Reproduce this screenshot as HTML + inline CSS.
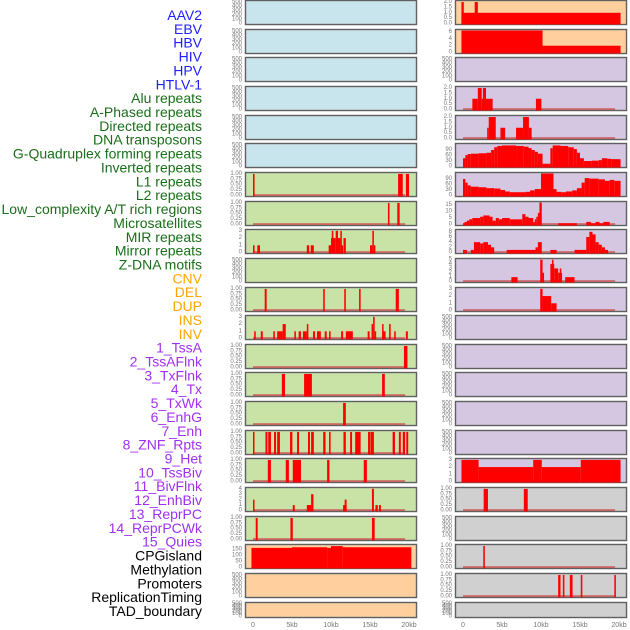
<!DOCTYPE html>
<html><head><meta charset="utf-8"><style>
html,body{margin:0;padding:0;background:#fff;width:630px;height:630px;overflow:hidden}
svg{display:block;font-family:"Liberation Sans",sans-serif}
</style></head><body>
<svg id="chart" width="630" height="630" viewBox="0 0 630 630" xmlns="http://www.w3.org/2000/svg"></svg>
<script>
// ---- labels ----
const labels = ["AAV2","EBV","HBV","HIV","HPV","HTLV-1","Alu repeats","A-Phased repeats","Directed repeats","DNA transposons","G-Quadruplex forming repeats","Inverted repeats","L1 repeats","L2 repeats","Low_complexity A/T rich regions","Microsatellites","MIR repeats","Mirror repeats","Z-DNA motifs","CNV","DEL","DUP","INS","INV","1_TssA","2_TssAFlnk","3_TxFlnk","4_Tx","5_TxWk","6_EnhG","7_Enh","8_ZNF_Rpts","9_Het","10_TssBiv","11_BivFlnk","12_EnhBiv","13_ReprPC","14_ReprPCWk","15_Quies","CPGisland","Methylation","Promoters","ReplicationTiming","TAD_boundary"];
const labelGroups = [6,13,5,15,5];
const groupColors = ["#2020ff","#1a6e1a","#ffa500","#a030f0","#000000"];
const xTicks = [0,5,10,15,20];
const xTickLabels = ["0","5kb","10kb","15kb","20kb"];
// ---- tick sets ----
const T500 = [0,100,200,300,400,500];
const T1 = [0,0.25,0.5,0.75,1];
// ---- left column data [startKb, endKb, value] ----
const L6 = [[0,0.2,1],[18.6,19.2,1],[19.6,20,1]];
const L7 = [[17.3,17.5,1],[18.5,18.8,1]];
const L8 = [[0,0.2,1],[0.55,0.9,1],[6.9,7.2,1],[7.4,7.8,1],[9.7,10,1],[10,10.6,2],[10.1,10.3,3],[10.6,10.9,3],[10.9,11.2,2],[11.2,11.35,3],[11.35,11.5,1],[11.6,11.9,2],[15,15.3,1],[15.3,15.5,3],[15.5,15.6,1]];
const L10 = [[1.5,1.75,1],[9.0,9.2,1],[11.7,11.9,1],[13.6,13.8,1],[18.3,18.7,1]];
const L11 = [[0.15,0.35,1],[1.0,1.25,1],[2.6,2.8,1],[3.1,3.8,1],[3.8,4.2,2],[5.3,5.5,1],[5.85,6.15,1],[6.4,6.9,1],[6.9,7.1,2],[7.7,7.95,1],[8.2,8.7,1],[9.2,9.45,1],[9.75,9.95,1],[11.3,11.55,1],[11.9,12.8,1],[14.7,14.95,1],[15.2,15.4,2],[15.4,15.6,3],[15.6,15.75,1],[16.55,16.7,2],[16.7,17,1],[17.45,17.65,2],[18.1,18.3,1],[19.6,19.85,1]];
const L12 = [[19.35,19.8,1]];
const L13 = [[3.7,4.1,1],[6.55,7.55,1],[16.55,16.9,1]];
const L14 = [[11.55,11.9,1]];
const L15 = [[0,0.17,1],[1.6,1.85,1],[1.95,2.3,1],[2.7,2.95,1],[3.1,3.45,1],[4.75,5.05,1],[5.65,5.9,1],[7.05,7.3,1],[7.45,7.8,1],[9.0,9.3,1],[9.75,9.95,1],[11.6,11.9,1],[12.45,12.7,1],[13.1,13.8,1],[14.75,15.05,1],[15.1,15.5,1],[17.9,18.2,1],[18.7,18.95,1],[19.2,19.5,1],[19.65,19.9,1]];
const L16 = [[1.9,2.3,1],[4.2,4.6,1],[5.1,6.15,1],[9.5,9.8,1],[14.2,14.6,1]];
const L17 = [[0,0.17,2],[5.1,5.35,1],[6.9,7.45,1],[7.45,7.75,3],[11.55,12,1],[11.75,12,2],[15.25,15.5,4],[15.7,16,1],[16.15,16.4,1]];
const L18 = [[0.35,0.6,1],[4.8,5.1,1],[15.25,15.6,1]];
const L19 = [[-0.2,5,165],[5,9.5,170],[9.5,10,165],[10,11.5,180],[11.5,20.3,170]];
// ---- right column data ----
const R0 = [[-0.2,20.2,1],[-0.2,0.1,2],[1.5,1.9,2]];
const R1 = [[-0.2,10.2,6.5],[10.2,20.2,2]];
const R3 = [[1.2,1.9,1],[1.9,2.4,2],[2.4,2.55,1],[2.55,2.95,2],[2.95,3.8,1],[9.35,10.05,1]];
const R4 = [[3.1,3.3,1],[3.3,4.2,2],[4.8,5.4,1],[6.8,7.7,1],[7.7,8.45,2],[8.45,8.8,1]];
const R5 = [[0,0.3,45],[0.3,0.6,62],[0.6,1,68],[1,2,70],[2,3,72],[3,3.6,75],[3.6,4,90],[4,4.4,105],[4.4,5,112],[5,6.8,115],[6.8,7.8,112],[7.8,8.4,108],[8.4,8.8,100],[8.8,9.2,90],[9.2,9.6,80],[9.6,10.2,70],[10.2,11.2,15],[11.2,11.5,100],[11.5,12.5,115],[12.5,13.5,112],[13.5,14.2,105],[14.2,14.6,95],[14.6,15,75],[15,15.5,45],[15.5,16.5,30],[16.5,17.4,32],[17.4,17.8,35],[17.8,18.5,45],[18.5,19,42],[19,20.2,40]];
const R6 = [[0,0.3,90],[0.3,0.6,70],[0.6,1,55],[1,2,48],[2,3,45],[3,4,40],[4,4.8,38],[4.8,5.4,30],[5.4,6,22],[6,8,18],[8,8.6,20],[8.6,9.2,28],[9.2,10,35],[10,11.6,120],[11.6,12,35],[12,12.6,20],[12.6,13.2,18],[13.2,14,22],[14,14.6,28],[14.6,15.2,40],[15.2,15.6,70],[15.6,16.2,95],[16.2,17.4,92],[17.4,18.2,88],[18.2,18.8,80],[18.8,19.4,85],[19.4,20.2,80]];
const R7 = [[0,0.2,1],[0.2,0.5,2],[0.5,0.8,3],[0.8,1.2,4],[1.2,2.2,5],[2.2,2.6,6],[2.6,3.4,7],[3.4,3.8,6],[3.8,4.2,3],[4.2,4.6,5],[4.6,5,4],[5,6,5],[6,7.6,4],[7.6,8,8],[8,8.4,6],[8.4,9,5],[9,9.2,2],[9.2,9.4,4],[9.4,9.6,6],[9.6,9.8,9],[9.8,10.1,17],[12.2,14.6,1],[15.8,16.4,2],[16.4,17,1],[17,17.5,2],[17.5,18,1],[18,18.8,2]];
const R8 = [[0,0.5,1],[1,1.4,1],[1.4,2.2,4],[2.2,2.6,3.5],[2.6,3.2,4],[3.2,3.6,3],[3.6,4,2],[5.6,9.3,1],[9.3,9.6,2],[9.6,10.1,4],[11.2,12,1],[14.3,15.8,1],[15.8,16.2,6],[16.2,16.6,8],[16.6,17,7],[17,17.4,4],[17.4,17.8,3],[17.8,18.2,2],[18.2,18.6,1]];
const R9 = [[6.2,7.0,1],[9.9,10.2,5],[10.2,10.3,2],[11.2,11.7,4],[11.4,11.6,5],[11.7,12.2,3],[12.2,12.7,2],[12.4,12.6,3],[13.1,14.3,1]];
const R10 = [[9.9,10.2,3],[10.2,11.3,2],[11.3,12.0,1]];
const R16 = [[-0.2,2.0,3],[2.0,9.0,2],[9.0,10.1,3],[10.1,15.1,2],[15.1,20.2,3]];
const R17 = [[2.65,3.2,1],[7.8,8.3,1]];
const R19 = [[2.6,2.8,1]];
const R20 = [[12.2,12.5,1],[12.8,13.0,1],[13.7,14.05,1],[15.1,15.3,1],[19.4,19.6,1]];

const BG = {blue:"#c8e4ec",green:"#c9e2a5",orange:"#ffd09e",purple:"#d5c6e2",grey:"#d0d0d0"};
// panel specs: [data, ymax, ticks, tickDecimals, bg]
const left = [
 [null,520,T500,0,"blue"],[null,520,T500,0,"blue"],[null,520,T500,0,"blue"],[null,520,T500,0,"blue"],[null,520,T500,0,"blue"],[null,520,T500,0,"blue"],
 [L6,1.02,T1,2,"green"],[L7,1.02,T1,2,"green"],[L8,3.05,[0,1,2,3],0,"green"],[null,520,T500,0,"green"],[L10,1.02,T1,2,"green"],[L11,3.05,[0,1,2,3],0,"green"],
 [L12,1.02,T1,2,"green"],[L13,1.02,T1,2,"green"],[L14,1.02,T1,2,"green"],[L15,1.02,T1,2,"green"],[L16,1.02,T1,2,"green"],[L17,4.05,[0,1,2,3,4],0,"green"],
 [L18,1.02,T1,2,"green"],[L19,185,[0,50,100,150],0,"orange"],[null,520,T500,0,"orange"],[null,520,T500,0,"orange"]];
const right = [
 [R0,2.05,[0,0.5,1,1.5,2],1,"orange"],[R1,6.5,[0,2,4,6],0,"orange"],[null,520,T500,0,"purple"],[R3,2.05,[0,0.5,1,1.5,2],1,"purple"],[R4,2.05,[0,0.5,1,1.5,2],1,"purple"],
 [R5,120,[0,30,60,90],0,"purple"],[R6,120,[0,30,60,90],0,"purple"],[R7,17,[0,5,10,15],0,"purple"],[R8,8.5,[0,2,4,6,8],0,"purple"],[R9,5.05,[0,1,2,3,4,5],0,"purple"],
 [R10,3.05,[0,1,2,3],0,"purple"],[null,520,T500,0,"purple"],[null,520,T500,0,"purple"],[null,520,T500,0,"purple"],[null,520,T500,0,"purple"],[null,520,T500,0,"purple"],
 [R16,3.05,[0,1,2,3],0,"purple"],[R17,1.02,T1,2,"grey"],[null,520,T500,0,"grey"],[R19,1.02,T1,2,"grey"],[R20,1.02,T1,2,"grey"],[null,520,T500,0,"grey"]];

const NS="http://www.w3.org/2000/svg";
const svg=document.getElementById("chart");
function mk(tag,attrs,parent){const e=document.createElementNS(NS,tag);for(const k in attrs)e.setAttribute(k,attrs[k]);(parent||svg).appendChild(e);return e;}

// labels
let li=0;
labelGroups.forEach((n,g)=>{for(let k=0;k<n;k++){const t=mk("text",{x:202,y:15+li*13.86,"text-anchor":"end","dominant-baseline":"central","font-size":"14",fill:groupColors[g]});
t.textContent=labels[li];


li++;}});

const cols=[{x:245,w:171,x0:253,specs:left,name:"left"},{x:455,w:171,x0:463,specs:right,name:"right"}];
const KB=7.8;
cols.forEach(col=>{
  const xs=kb=>col.x0+kb*KB;
  col.specs.forEach((sp,i)=>{
    const top=Math.round(28.65*i), h=(i===21?16:25);
    const [data,ymax,ticks,dec,bg]=sp;
    const g=mk("g",{});
    
    
    const y0=top+h-1.5, y1=top+1.5;
    const ys=v=>y0-(v/ymax)*(y0-y1);
    const r=mk("rect",{x:col.x+0.5,y:top+0.5,width:col.w,height:h-1,fill:BG[bg],stroke:"#8a8a8a","stroke-width":1.6},g);
    
    
    mk("rect",{x:col.x+0.5,y:top+0.5,width:col.w,height:h-1,fill:"none",stroke:"#555","stroke-width":0.8},g);
    ticks.forEach(tv=>{
      const t=mk("text",{x:col.x-3,y:ys(tv),"text-anchor":"end","dominant-baseline":"central","font-size":"6",fill:"#777"},g);
      t.textContent=tv.toFixed(dec);
      
      
    });
    if(data){
      const b=mk("rect",{x:xs(0),y:y0-1.2,width:xs(19.5)-xs(0),height:1.5,fill:"#cc5555"},g);
      
      
      data.forEach(d=>{
        const x1=xs(d[0]),x2=xs(d[1]);
        const bar=mk("rect",{x:x1,y:ys(d[2]),width:Math.max(1.5,x2-x1),height:y0+1-ys(d[2]),fill:"#ff0000"},g);
        
        
      });
    }
  });
  xTicks.forEach((kb,j)=>{
    const t=mk("text",{x:xs(kb),y:627,"text-anchor":"middle","font-size":"7",fill:"#777"});
    t.textContent=xTickLabels[j];
    
    
  });
});
</script>
</body></html>
